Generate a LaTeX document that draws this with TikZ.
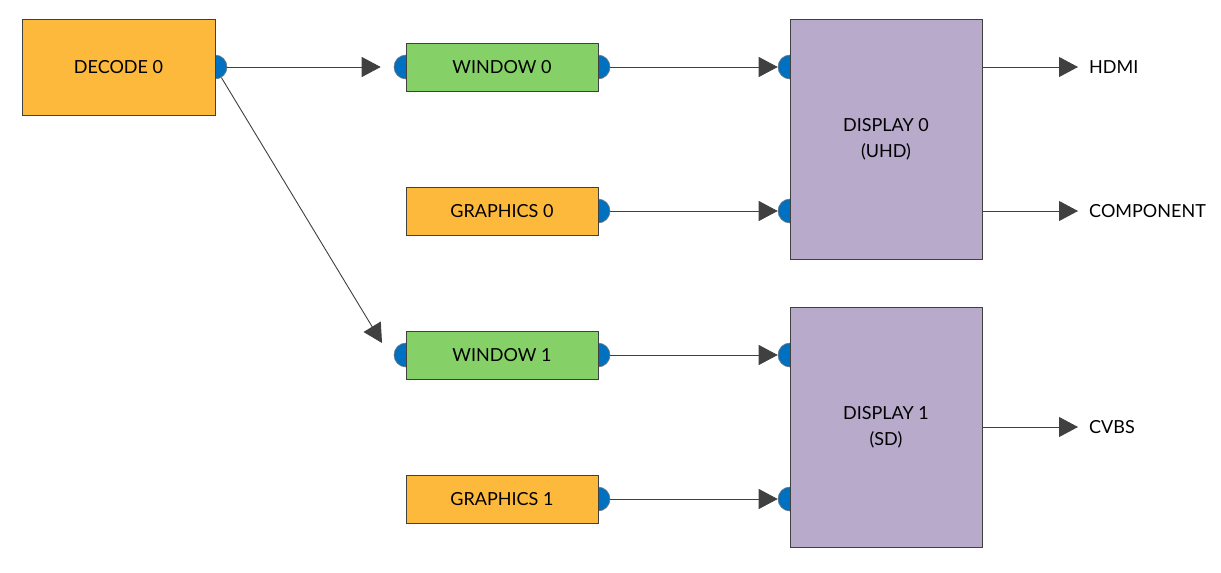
\documentclass[tikz,border=0pt]{standalone}
\usepackage{fontspec}
\setmainfont{Lato}
\usetikzlibrary{arrows.meta}
\definecolor{borange}{RGB}{253,185,60}
\definecolor{bgreen}{RGB}{133,208,103}
\definecolor{bpurple}{RGB}{184,170,203}
\definecolor{bblue}{RGB}{0,112,192}
\definecolor{edge}{RGB}{64,64,64}
\begin{document}
\begin{tikzpicture}[x=1pt,y=-1pt,
  every node/.style={font=\fontsize{18}{26}\selectfont},
  blk/.style={draw=edge,line width=1pt,inner sep=0pt,align=center},
  small/.style={blk,minimum width=192pt,minimum height=48pt},
  big/.style={blk,fill=bpurple,minimum width=192pt,minimum height=240pt},
  port/.style={circle,draw=edge!70,line width=0.6pt,fill=bblue,minimum size=24pt,inner sep=0pt},
  arr/.style={draw=edge,line width=0.9pt,-{Triangle[length=19pt,width=20pt]}},
  lbl/.style={anchor=west,inner sep=0pt}]
\useasboundingbox (0,0) rectangle (1221,573);
% ports (drawn first so boxes hide their inner halves)
\node[port] (d0o) at (215,67) {};
\node[port] (w0i) at (406,67) {};
\node[port] (w0o) at (598,67) {};
\node[port] (g0o) at (598,211) {};
\node[port] (w1i) at (406,355) {};
\node[port] (w1o) at (598,355) {};
\node[port] (g1o) at (598,499) {};
\node[port] (p0a) at (790,67) {};
\node[port] (p0b) at (790,211) {};
\node[port] (p1a) at (790,355) {};
\node[port] (p1b) at (790,499) {};
% blocks
\node[blk,fill=borange,minimum width=193pt,minimum height=96pt] (dec) at (118.5,67) {DECODE 0};
\node[small,fill=bgreen] (w0) at (502,67) {WINDOW 0};
\node[small,fill=borange] (g0) at (502,211) {GRAPHICS 0};
\node[small,fill=bgreen] (w1) at (502,355) {WINDOW 1};
\node[small,fill=borange] (g1) at (502,499) {GRAPHICS 1};
\node[big] (disp0) at (886,139) {DISPLAY 0\\(UHD)};
\node[big] (disp1) at (886,427) {DISPLAY 1\\(SD)};
% output labels
\node[lbl] (hdmi) at (1089,67) {HDMI};
\node[lbl] (comp) at (1089,211) {COMPONENT};
\node[lbl] (cvbs) at (1089,427) {CVBS};
\coordinate (t0) at (1078,67);
\coordinate (t1) at (1078,211);
\coordinate (t2) at (1078,427);
\coordinate (tw1) at (382,343);
% connectors
\draw[arr,shorten >=13pt] (d0o) -- (w0i);
\draw[arr] (d0o) -- (tw1);
\draw[arr] (w0o) -- (p0a);
\draw[arr] (g0o) -- (p0b);
\draw[arr] (w1o) -- (p1a);
\draw[arr] (g1o) -- (p1b);
\draw[arr] (disp0.east |- t0) -- (t0);
\draw[arr] (disp0.east |- t1) -- (t1);
\draw[arr] (disp1.east |- t2) -- (t2);
\end{tikzpicture}
\end{document}
